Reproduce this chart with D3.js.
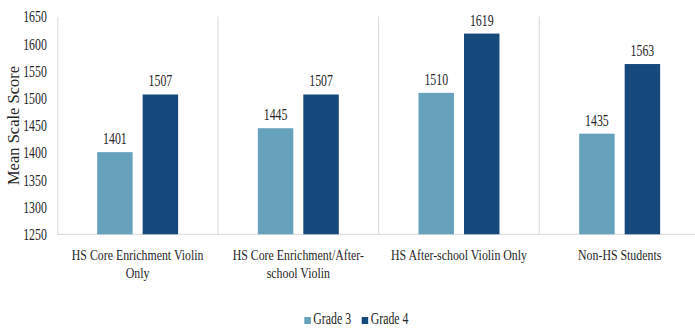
<!DOCTYPE html>
<html>
<head>
<meta charset="utf-8">
<script src="https://cdn.jsdelivr.net/npm/d3@7"></script>
<style>
  html, body { margin: 0; padding: 0; background: #fff; }
  svg { display: block; }
</style>
</head>
<body>
<svg id="chart" width="695" height="329"></svg>
<script>
// Mean scale scores by program group and grade
const categories = [
  ["HS Core Enrichment Violin", "Only"],
  ["HS Core Enrichment/After-", "school Violin"],
  ["HS After-school Violin Only"],
  ["Non-HS Students"]
];
const seriesNames = ["Grade 3", "Grade 4"];
const grade3 = [1401, 1445, 1510, 1435];
const grade4 = [1507, 1507, 1619, 1563];
const yTicks = [1250, 1300, 1350, 1400, 1450, 1500, 1550, 1600, 1650];
const colors = ["#66a2bc", "#174a7c"];

const svg = d3.select("#chart");
const plotL = 57.3, plotR = 700, plotT = 16.7, plotB = 234.3;
const FONT = "'Liberation Serif', 'Times New Roman', serif";
const sx = 0.74; // horizontal squeeze of the serif lettering

const x = d3.scaleBand().domain(d3.range(categories.length)).range([plotL, plotR]).paddingInner(0).paddingOuter(0);
const xInner = d3.scaleBand().domain(seriesNames).range([0, x.bandwidth()]).paddingInner(0.22).paddingOuter(0.876);
const y = d3.scaleLinear().domain([1250, 1650]).range([plotB, plotT]);

const label = (g, tx, ty, txt, size, anchor, rot, scaleX = sx) => g.append("text")
  .attr("transform", `translate(${tx},${ty})${rot ? ` rotate(${rot})` : ""} scale(${scaleX},1)`)
  .attr("text-anchor", anchor)
  .attr("font-family", FONT)
  .attr("font-size", size)
  .attr("fill", "#262626")
  .text(txt);

// category separators
svg.append("g").selectAll("line")
  .data(d3.range(1, categories.length))
  .join("line")
  .attr("x1", i => x(i)).attr("x2", i => x(i))
  .attr("y1", plotT).attr("y2", plotB)
  .attr("stroke", "#d9d9d9").attr("stroke-width", 1);

// y axis (labels only, with plain gray axis line)
const yAxis = svg.append("g").attr("transform", `translate(${plotL},0)`)
  .call(d3.axisLeft(y).tickValues(yTicks).tickSize(0).tickPadding(10));
yAxis.select(".domain").attr("stroke", "#d9d9d9");
yAxis.selectAll(".tick text").remove();
yTicks.forEach(d => label(yAxis, -10.5, y(d) + 5.6, d, 16, "end"));

// baseline
svg.append("line").attr("x1", plotL).attr("x2", plotR).attr("y1", plotB).attr("y2", plotB)
  .attr("stroke", "#d9d9d9");

// bars
const rows = categories.map((c, i) => [
  { s: seriesNames[0], v: grade3[i] },
  { s: seriesNames[1], v: grade4[i] }
]);
const groups = svg.append("g").selectAll("g").data(rows).join("g")
  .attr("transform", (d, i) => `translate(${x(i)},0)`);
groups.selectAll("rect").data(d => d).join("rect")
  .attr("x", d => xInner(d.s))
  .attr("width", xInner.bandwidth())
  .attr("y", d => y(d.v))
  .attr("height", d => plotB - y(d.v))
  .attr("fill", d => colors[seriesNames.indexOf(d.s)]);
groups.each(function(d) {
  const g = d3.select(this);
  d.forEach(p => label(g, xInner(p.s) + xInner.bandwidth() / 2, y(p.v) - 8, p.v, 16, "middle"));
});

// category labels (wrapped onto two lines where needed)
categories.forEach((lines, i) => {
  lines.forEach((ln, k) => label(svg, x(i) + x.bandwidth() / 2, 260.3 + k * 18, ln, 15.5, "middle", 0, 0.765));
});

// y axis title
label(svg, 18.5, 125.5, "Mean Scale Score", 16.5, "middle", -90, 1);

// legend
const legend = svg.append("g");
const items = [{ n: seriesNames[0], x0: 304.3 }, { n: seriesNames[1], x0: 361.7 }];
items.forEach((it, k) => {
  legend.append("rect").attr("x", it.x0).attr("y", 317).attr("width", 6.5).attr("height", 7).attr("fill", colors[k]);
  label(legend, it.x0 + 9, 324.3, it.n, 16, "start");
});
</script>
</body>
</html>
